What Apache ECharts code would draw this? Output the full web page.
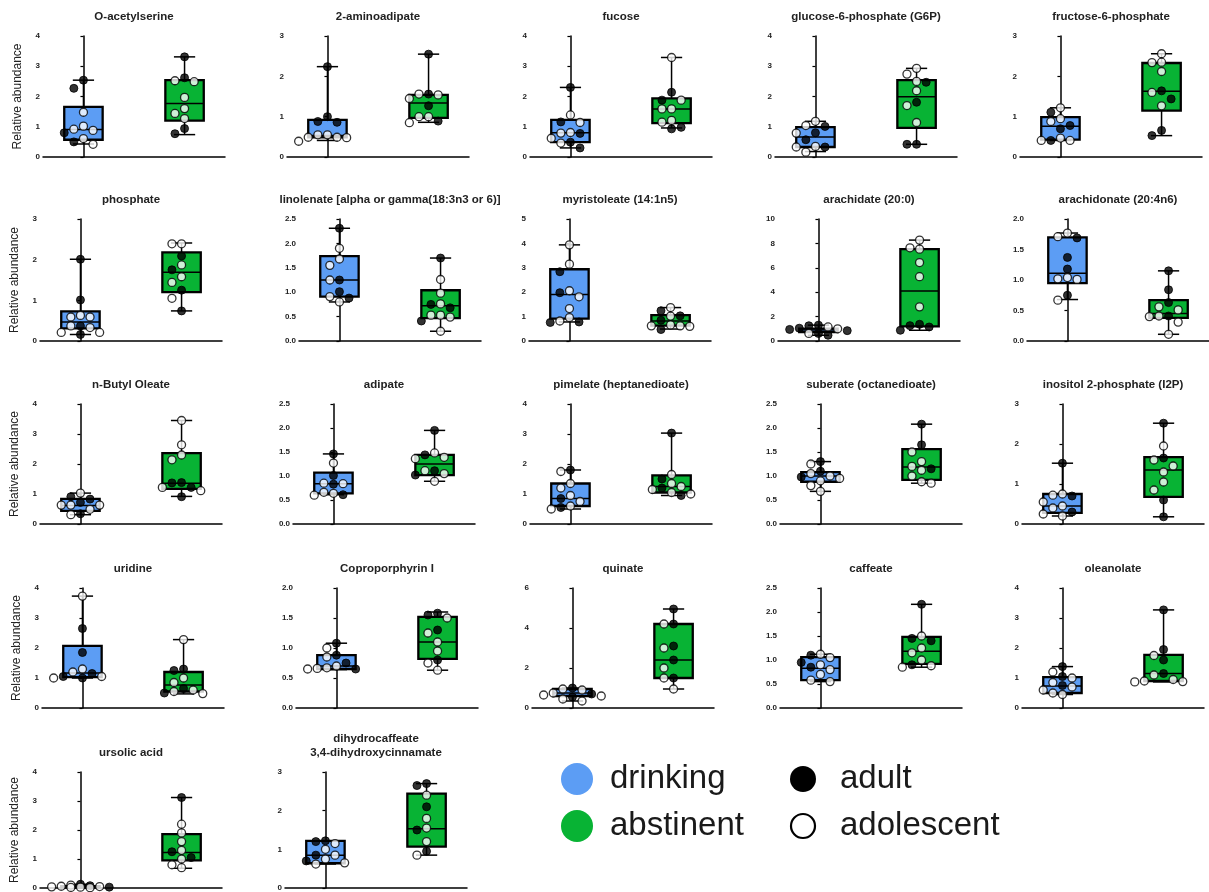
<!DOCTYPE html>
<html>
<head>
<meta charset="utf-8">
<script src="https://cdn.jsdelivr.net/npm/echarts@6/dist/echarts.min.js"></script>
<style>
  html, body { margin: 0; padding: 0; background: #fff; }
  #chart { width: 1209px; height: 892px; }
</style>
</head>
<body>
<div id="chart"></div>
<script>
// Metabolite panels: title, y-axis range and tick step
const titles = [
  'O-acetylserine', '2-aminoadipate', 'fucose', 'glucose-6-phosphate (G6P)', 'fructose-6-phosphate',
  'phosphate', 'linolenate [alpha or gamma(18:3n3 or 6)]', 'myristoleate (14:1n5)', 'arachidate (20:0)', 'arachidonate (20:4n6)',
  'n-Butyl Oleate', 'adipate', 'pimelate (heptanedioate)', 'suberate (octanedioate)', 'inositol 2-phosphate (I2P)',
  'uridine', 'Coproporphyrin I', 'quinate', 'caffeate', 'oleanolate',
  'ursolic acid', 'dihydrocaffeate\n3,4-dihydroxycinnamate'
];
const yMax  = [4, 3, 4, 4, 3,  3, 2.5, 5, 10, 2,  4, 2.5, 4, 2.5, 3,  4, 2, 6, 2.5, 4,  4, 3];
const yStep = [1, 1, 1, 1, 1,  1, 0.5, 1, 2, 0.5,  1, 0.5, 1, 0.5, 1,  1, 0.5, 2, 0.5, 1,  1, 1];

// Box statistics [min, Q1, median, Q3, max] per panel
const drinkingBox = [
  [0.43, 0.57, 0.91, 1.66, 2.54], [0.41, 0.49, 0.53, 0.92, 2.24], [0.30, 0.49, 0.80, 1.23, 2.30], [0.18, 0.33, 0.66, 0.99, 1.18], [0.41, 0.43, 0.76, 0.99, 1.22],
  [0.16, 0.31, 0.47, 0.73, 2.01], [0.80, 0.91, 1.25, 1.74, 2.31], [0.78, 0.92, 1.91, 2.94, 3.94], [0.47, 0.72, 0.90, 1.02, 1.30], [0.68, 0.95, 1.11, 1.70, 1.77],
  [0.31, 0.44, 0.62, 0.84, 1.03], [0.61, 0.64, 0.84, 1.07, 1.46], [0.50, 0.60, 0.85, 1.35, 1.80], [0.68, 0.88, 1.00, 1.08, 1.30], [0.20, 0.28, 0.45, 0.75, 1.52],
  [1.00, 1.03, 1.17, 2.07, 3.73], [0.64, 0.65, 0.70, 0.88, 1.08], [0.35, 0.60, 0.75, 0.95, 1.00], [0.55, 0.58, 0.83, 1.06, 1.12], [0.45, 0.50, 0.73, 1.03, 1.38],
  [0.01, 0.02, 0.04, 0.06, 0.13], [0.62, 0.64, 0.85, 1.22, 1.22]
];
const abstinentBox = [
  [0.74, 1.20, 1.77, 2.54, 3.31], [0.86, 0.97, 1.34, 1.54, 2.55], [0.96, 1.12, 1.59, 1.94, 3.29], [0.42, 0.96, 1.99, 2.54, 2.93], [0.53, 1.15, 1.63, 2.33, 2.56],
  [0.74, 1.20, 1.69, 2.18, 2.41], [0.20, 0.47, 0.72, 1.04, 1.70], [0.49, 0.63, 0.82, 1.06, 1.37], [0.88, 1.20, 4.09, 7.53, 8.27], [0.11, 0.38, 0.45, 0.67, 1.15],
  [0.92, 1.17, 1.36, 2.36, 3.45], [0.89, 1.02, 1.25, 1.44, 1.95], [0.95, 1.05, 1.25, 1.62, 3.03], [0.85, 0.92, 1.19, 1.56, 2.08], [0.18, 0.68, 1.35, 1.67, 2.52],
  [0.47, 0.55, 0.77, 1.20, 2.28], [0.63, 0.82, 1.10, 1.52, 1.60], [0.95, 1.50, 2.40, 4.20, 4.95], [0.85, 0.92, 1.18, 1.48, 2.16], [0.87, 0.90, 1.15, 1.77, 3.27],
  [0.68, 0.95, 1.22, 1.86, 3.12], [0.85, 1.07, 1.53, 2.44, 2.70]
];

// Individual samples: adults (filled) and adolescents (open)
const drinkingAdult = [
  [2.54, 2.27, 0.80, 0.50], [2.24, 1.00, 0.88, 0.86], [2.30, 1.16, 0.78, 0.49, 0.30], [1.01, 0.80, 0.57, 0.33], [1.11, 0.78, 0.70, 0.41],
  [2.01, 1.01, 0.37, 0.16], [2.31, 1.25, 1.01, 0.88], [2.84, 1.98, 0.78, 0.76], [1.30, 1.25, 1.05, 0.95, 0.85, 0.62, 0.47], [1.69, 1.37, 1.18, 0.75],
  [0.91, 0.83, 0.72, 0.34], [1.46, 1.01, 0.83, 0.61], [1.80, 0.85, 0.55], [1.30, 1.10, 0.98], [1.52, 0.70, 0.30],
  [2.65, 1.85, 1.15, 1.05, 1.00], [1.08, 0.88, 0.75, 0.65], [1.00, 0.70, 0.55], [1.10, 0.95, 0.85], [1.38, 1.05, 0.75],
  [0.13, 0.08, 0.03], [1.22, 1.20, 0.85, 0.70]
];
const drinkingAdolescent = [
  [1.48, 1.02, 0.92, 0.88, 0.61, 0.42], [0.55, 0.55, 0.49, 0.49, 0.48, 0.39], [1.39, 1.14, 0.81, 0.79, 0.62, 0.46], [1.18, 1.04, 0.79, 0.35, 0.33, 0.16], [1.22, 0.95, 0.88, 0.47, 0.41, 0.41],
  [0.63, 0.59, 0.59, 0.37, 0.33, 0.21, 0.21], [1.90, 1.68, 1.55, 1.25, 0.91, 0.80], [3.94, 3.15, 2.06, 1.81, 1.33, 0.96, 0.82], [1.15, 1.00, 0.62], [1.77, 1.71, 1.04, 1.02, 1.01, 0.67],
  [1.03, 0.63, 0.63, 0.63, 0.49, 0.31], [1.27, 0.85, 0.84, 0.66, 0.64, 0.60], [1.75, 1.35, 1.20, 0.95, 0.75, 0.60, 0.50], [1.25, 1.05, 1.00, 0.95, 0.90, 0.80, 0.68], [0.75, 0.72, 0.55, 0.45, 0.40, 0.25, 0.20],
  [3.73, 1.30, 1.20, 1.05, 1.00], [1.00, 0.85, 0.70, 0.67, 0.66, 0.65], [0.95, 0.90, 0.75, 0.65, 0.60, 0.45, 0.35], [1.12, 1.05, 0.90, 0.80, 0.70, 0.58, 0.55], [1.20, 1.00, 0.85, 0.70, 0.60, 0.50, 0.45],
  [0.10, 0.06, 0.05, 0.04, 0.03, 0.02, 0.01], [1.15, 1.00, 0.85, 0.75, 0.65, 0.62]
];
const abstinentAdult = [
  [3.31, 2.62, 0.94, 0.77], [2.55, 1.56, 1.27, 0.89], [2.14, 1.88, 0.98, 0.93], [2.47, 1.81, 0.42, 0.42], [1.64, 1.44, 0.66, 0.53],
  [2.09, 1.75, 1.25, 0.74], [1.70, 0.75, 0.68, 0.41], [1.24, 1.03, 0.85, 0.47], [1.37, 1.26, 1.15, 0.88], [1.15, 0.84, 0.63, 0.41],
  [1.38, 1.37, 1.22, 0.91], [1.95, 1.44, 1.11, 1.02], [3.03, 1.50, 1.20, 0.95], [2.08, 1.65, 1.15], [2.52, 1.65, 0.60, 0.18],
  [1.30, 1.25, 0.65, 0.50], [1.58, 1.55, 1.30, 0.80], [4.95, 4.20, 3.10, 2.40, 1.50], [2.16, 1.45, 1.40, 0.90], [3.27, 1.95, 1.60, 1.15],
  [3.12, 1.25, 1.05], [2.70, 2.65, 2.10, 1.50, 0.95]
];
const abstinentAdolescent = [
  [2.52, 2.49, 1.97, 1.60, 1.44, 1.27], [1.56, 1.54, 1.45, 1.00, 1.00, 0.85], [3.29, 1.88, 1.59, 1.59, 1.21, 1.15], [2.93, 2.74, 2.50, 2.19, 1.70, 1.14], [2.56, 2.35, 2.34, 2.12, 1.60, 1.27],
  [2.39, 2.39, 1.87, 1.58, 1.44, 1.05], [1.26, 0.98, 0.76, 0.53, 0.53, 0.49, 0.20], [1.37, 1.02, 0.66, 0.62, 0.62, 0.60], [8.27, 7.64, 7.53, 6.43, 5.27, 2.80], [0.56, 0.51, 0.41, 0.40, 0.31, 0.11],
  [3.45, 2.64, 2.30, 2.14, 1.22, 1.11], [1.48, 1.39, 1.36, 1.11, 1.05, 0.89], [1.65, 1.35, 1.25, 1.15, 1.05, 1.00], [1.50, 1.30, 1.20, 1.12, 1.00, 0.88, 0.85], [1.95, 1.60, 1.45, 1.30, 1.05, 0.85],
  [2.28, 1.00, 0.85, 0.60, 0.55, 0.48], [1.50, 1.25, 1.10, 0.95, 0.75, 0.63], [4.20, 3.00, 2.00, 1.50, 0.95], [1.50, 1.25, 1.15, 1.00, 0.88, 0.85], [1.75, 1.10, 0.95, 0.90, 0.88, 0.87],
  [2.20, 1.90, 1.60, 1.30, 1.00, 0.80, 0.70], [2.40, 1.80, 1.55, 1.20, 0.85]
];

const groupNames = ['drinking', 'abstinent'];
const groupColors = ['#5C9DF4', '#08B334'];

// ---- layout ----
const rowTop = [36, 219, 404, 588, 772];
const rowBottom = [157, 341, 524, 708, 890];
const gridLeft = [
  43, 287, 530, 775, 1020,
  40, 299, 529, 778, 1027,
  40, 293, 530, 780, 1022,
  42, 296, 532, 780, 1022,
  40, 285
];
const plotW = 182;
const xMin = -0.4, xMax = 1.4;
const pointSize = 8;

// Spread samples horizontally (beeswarm); when every slot is taken,
// the least crowded slot is used so symbols may overlap a little
function swarm(points, pxPerY, pxPerX) {
  const stepPx = 9.6, minDist = 8.4, maxSlot = 3;
  const slots = [0];
  for (let s = 1; s <= maxSlot; s++) slots.push(-s, s);
  const sorted = points.slice().sort((a, b) => b.v - a.v);
  const placed = [];
  sorted.forEach(p => {
    const y = p.v * pxPerY;
    let chosen = null, best = -1, bestX = 0;
    for (const s of slots) {
      const x = s * stepPx;
      const d = placed.reduce((m, q) => Math.min(m, Math.hypot(q.x - x, q.y - y)), Infinity);
      if (d >= minDist) { chosen = x; break; }
      if (d > best) { best = d; bestX = x; }
    }
    if (chosen === null) chosen = bestX;
    placed.push({ x: chosen, y: y, v: p.v, adult: p.adult });
  });
  return placed.map(q => ({ dx: q.x / pxPerX, v: q.v, adult: q.adult }));
}

function boxRender(params, api) {
  const x = api.value(0);
  const mn = api.value(1), q1 = api.value(2), md = api.value(3), q3 = api.value(4), mx = api.value(5);
  const hw = 0.19, cw = 0.105;
  const c = api.coord([x, md])[0];
  const yMn = api.coord([x, mn])[1], yQ1 = api.coord([x, q1])[1], yMd = api.coord([x, md])[1];
  const yQ3 = api.coord([x, q3])[1], yMx = api.coord([x, mx])[1];
  const xl = api.coord([x - hw, md])[0], xr = api.coord([x + hw, md])[0];
  const cl = api.coord([x - cw, md])[0], cr = api.coord([x + cw, md])[0];
  const color = groupColors[x];
  const ws = { stroke: '#000', lineWidth: 1.5 };
  return {
    type: 'group',
    children: [
      { type: 'line', shape: { x1: c, y1: yMx, x2: c, y2: yQ3 }, style: ws },
      { type: 'line', shape: { x1: c, y1: yQ1, x2: c, y2: yMn }, style: ws },
      { type: 'line', shape: { x1: cl, y1: yMx, x2: cr, y2: yMx }, style: ws },
      { type: 'line', shape: { x1: cl, y1: yMn, x2: cr, y2: yMn }, style: ws },
      { type: 'rect', shape: { x: xl, y: yQ3, width: xr - xl, height: yQ1 - yQ3 },
        style: { fill: color, stroke: '#000', lineWidth: 2.3 } },
      { type: 'line', shape: { x1: xl, y1: yMd, x2: xr, y2: yMd }, style: { stroke: '#000', lineWidth: 1.5 } }
    ]
  };
}

const grids = [], xAxes = [], yAxes = [], series = [], graphics = [];

titles.forEach((title, i) => {
  const row = Math.floor(i / 5), col = i % 5;
  const top = rowTop[row], bottom = rowBottom[row];
  const h = bottom - top;
  const left = gridLeft[i];
  grids.push({ left: left, top: top, width: plotW, height: h });
  xAxes.push({
    type: 'value', gridIndex: i, min: xMin, max: xMax,
    axisLine: { show: true, onZero: false, lineStyle: { color: '#000', width: 1.5 } },
    axisTick: { show: false }, axisLabel: { show: false }, splitLine: { show: false }
  });
  const dec = yStep[i] < 1 ? 1 : 0;
  yAxes.push({
    type: 'value', gridIndex: i, min: 0, max: yMax[i], interval: yStep[i],
    name: col === 0 ? 'Relative abundance' : '',
    nameLocation: 'middle', nameGap: 19,
    nameTextStyle: { fontSize: 12, color: '#222', fontFamily: 'Liberation Sans, Arial, sans-serif' },
    axisLine: { show: true, lineStyle: { color: '#000', width: 1.5 } },
    axisTick: { show: true, length: 3, lineStyle: { color: '#000', width: 1.2 } },
    splitLine: { show: false },
    axisLabel: {
      fontSize: 8, fontWeight: 'bold', color: '#222', margin: 3,
      fontFamily: 'Liberation Sans, Arial, sans-serif',
      formatter: v => v.toFixed(dec)
    }
  });

  // boxes
  series.push({
    type: 'custom', xAxisIndex: i, yAxisIndex: i, z: 2,
    renderItem: boxRender,
    encode: { x: 0, y: [1, 2, 3, 4, 5] },
    data: [[0].concat(drinkingBox[i]), [1].concat(abstinentBox[i])],
    silent: true
  });

  // samples
  const pxPerY = h / yMax[i];
  const pxPerX = plotW / (xMax - xMin);
  const groups = [
    drinkingAdult[i].map(v => ({ v, adult: true })).concat(drinkingAdolescent[i].map(v => ({ v, adult: false }))),
    abstinentAdult[i].map(v => ({ v, adult: true })).concat(abstinentAdolescent[i].map(v => ({ v, adult: false })))
  ];
  const pts = [];
  groups.forEach((g, gi) => {
    swarm(g, pxPerY, pxPerX).forEach(p => {
      pts.push({
        value: [gi + p.dx, p.v],
        itemStyle: p.adult
          ? { color: '#000', borderColor: '#000', borderWidth: 1 }
          : { color: '#fff', borderColor: '#000', borderWidth: 1.3 }
      });
    });
  });
  series.push({
    type: 'scatter', xAxisIndex: i, yAxisIndex: i, z: 5,
    symbol: 'circle', symbolSize: pointSize, data: pts, silent: true
  });

  // panel title
  graphics.push({
    type: 'text', silent: true,
    style: {
      text: title, x: left + plotW / 2, y: top - 12,
      align: 'center', verticalAlign: 'bottom', lineHeight: 14,
      font: 'bold 11.5px "Liberation Sans", Arial, sans-serif', fill: '#222'
    }
  });
});

// legend
const legendFont = '33px "Liberation Sans", Arial, sans-serif';
[
  { cx: 577, cy: 779, r: 16, fill: groupColors[0], stroke: null, label: groupNames[0], tx: 610 },
  { cx: 577, cy: 826, r: 16, fill: groupColors[1], stroke: null, label: groupNames[1], tx: 610 },
  { cx: 803, cy: 779, r: 13, fill: '#000', stroke: null, label: 'adult', tx: 840 },
  { cx: 803, cy: 826, r: 12, fill: '#fff', stroke: '#000', label: 'adolescent', tx: 840 }
].forEach(l => {
  graphics.push({
    type: 'circle', silent: true, shape: { cx: l.cx, cy: l.cy, r: l.r },
    style: { fill: l.fill, stroke: l.stroke || null, lineWidth: 2.2 }
  });
  graphics.push({
    type: 'text', silent: true,
    style: { text: l.label, x: l.tx, y: l.cy, align: 'left', verticalAlign: 'middle', font: legendFont, fill: '#1a1a1a' }
  });
});

const chart = echarts.init(document.getElementById('chart'), null, { renderer: 'canvas' });
chart.setOption({
  backgroundColor: '#fff',
  animation: false,
  grid: grids,
  xAxis: xAxes,
  yAxis: yAxes,
  series: series,
  graphic: graphics
});
</script>
</body>
</html>
